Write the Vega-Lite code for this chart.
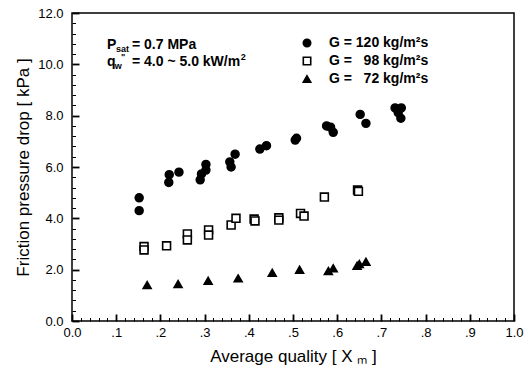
{
  "$schema": "https://vega.github.io/schema/vega-lite/v6.json",
  "width": 442,
  "height": 308,
  "autosize": {"type": "none"},
  "padding": {"left": 72, "top": 13, "right": 11, "bottom": 58},
  "background": "white",
  "config": {
    "view": {"stroke": "black", "strokeWidth": 1.5},
    "font": "Liberation Sans",
    "axis": {"grid": false, "domain": false, "ticks": true, "tickColor": "black", "labelColor": "black", "titleColor": "black", "labelFont": "Liberation Sans", "titleFont": "Liberation Sans", "titleFontWeight": "normal"}
  },
  "datasets": {
    "pts": [
      {"G": "G = 120 kg/m²s", "x": 0.152, "y": 4.8},
      {"G": "G = 120 kg/m²s", "x": 0.152, "y": 4.3},
      {"G": "G = 120 kg/m²s", "x": 0.22, "y": 5.7},
      {"G": "G = 120 kg/m²s", "x": 0.219, "y": 5.4},
      {"G": "G = 120 kg/m²s", "x": 0.242, "y": 5.8},
      {"G": "G = 120 kg/m²s", "x": 0.29, "y": 5.5},
      {"G": "G = 120 kg/m²s", "x": 0.293, "y": 5.73},
      {"G": "G = 120 kg/m²s", "x": 0.303, "y": 6.1},
      {"G": "G = 120 kg/m²s", "x": 0.303, "y": 5.88},
      {"G": "G = 120 kg/m²s", "x": 0.357, "y": 6.2},
      {"G": "G = 120 kg/m²s", "x": 0.36, "y": 6.0},
      {"G": "G = 120 kg/m²s", "x": 0.369, "y": 6.5},
      {"G": "G = 120 kg/m²s", "x": 0.425, "y": 6.7},
      {"G": "G = 120 kg/m²s", "x": 0.44, "y": 6.83},
      {"G": "G = 120 kg/m²s", "x": 0.505, "y": 7.05},
      {"G": "G = 120 kg/m²s", "x": 0.508, "y": 7.12},
      {"G": "G = 120 kg/m²s", "x": 0.576, "y": 7.6},
      {"G": "G = 120 kg/m²s", "x": 0.585, "y": 7.55},
      {"G": "G = 120 kg/m²s", "x": 0.591, "y": 7.35},
      {"G": "G = 120 kg/m²s", "x": 0.652, "y": 8.05},
      {"G": "G = 120 kg/m²s", "x": 0.665, "y": 7.7},
      {"G": "G = 120 kg/m²s", "x": 0.731, "y": 8.3},
      {"G": "G = 120 kg/m²s", "x": 0.745, "y": 8.3},
      {"G": "G = 120 kg/m²s", "x": 0.738, "y": 8.12},
      {"G": "G = 120 kg/m²s", "x": 0.744, "y": 7.9},
      {"G": "G = \u200798 kg/m²s", "x": 0.163, "y": 2.9},
      {"G": "G = \u200798 kg/m²s", "x": 0.163, "y": 2.77},
      {"G": "G = \u200798 kg/m²s", "x": 0.214, "y": 2.93},
      {"G": "G = \u200798 kg/m²s", "x": 0.261, "y": 3.39},
      {"G": "G = \u200798 kg/m²s", "x": 0.261, "y": 3.16},
      {"G": "G = \u200798 kg/m²s", "x": 0.309, "y": 3.55},
      {"G": "G = \u200798 kg/m²s", "x": 0.309, "y": 3.35},
      {"G": "G = \u200798 kg/m²s", "x": 0.36, "y": 3.74},
      {"G": "G = \u200798 kg/m²s", "x": 0.371, "y": 4.0},
      {"G": "G = \u200798 kg/m²s", "x": 0.412, "y": 3.97},
      {"G": "G = \u200798 kg/m²s", "x": 0.414, "y": 3.9},
      {"G": "G = \u200798 kg/m²s", "x": 0.468, "y": 4.02},
      {"G": "G = \u200798 kg/m²s", "x": 0.468, "y": 3.93},
      {"G": "G = \u200798 kg/m²s", "x": 0.517, "y": 4.19},
      {"G": "G = \u200798 kg/m²s", "x": 0.525, "y": 4.09},
      {"G": "G = \u200798 kg/m²s", "x": 0.571, "y": 4.83},
      {"G": "G = \u200798 kg/m²s", "x": 0.646, "y": 5.1},
      {"G": "G = \u200798 kg/m²s", "x": 0.648, "y": 5.05},
      {"G": "G = \u200772 kg/m²s", "x": 0.17, "y": 1.4},
      {"G": "G = \u200772 kg/m²s", "x": 0.24, "y": 1.44},
      {"G": "G = \u200772 kg/m²s", "x": 0.308, "y": 1.57},
      {"G": "G = \u200772 kg/m²s", "x": 0.376, "y": 1.66},
      {"G": "G = \u200772 kg/m²s", "x": 0.453, "y": 1.88},
      {"G": "G = \u200772 kg/m²s", "x": 0.515, "y": 2.0},
      {"G": "G = \u200772 kg/m²s", "x": 0.58, "y": 1.95},
      {"G": "G = \u200772 kg/m²s", "x": 0.591, "y": 2.05},
      {"G": "G = \u200772 kg/m²s", "x": 0.645, "y": 2.15},
      {"G": "G = \u200772 kg/m²s", "x": 0.65, "y": 2.22},
      {"G": "G = \u200772 kg/m²s", "x": 0.665, "y": 2.31}
    ],
    "leg": [
      {"G": "G = 120 kg/m²s", "x": 0.5317, "lx": 0.5814, "y": 10.83},
      {"G": "G = \u200798 kg/m²s", "x": 0.5317, "lx": 0.5814, "y": 10.13},
      {"G": "G = \u200772 kg/m²s", "x": 0.5317, "lx": 0.5814, "y": 9.43}
    ],
    "notes": [
      {"part": "main", "x": 0.0792, "y": 10.75, "t": "P"},
      {"part": "sub", "x": 0.0995, "y": 10.58, "t": "sat"},
      {"part": "main", "x": 0.1357, "y": 10.75, "t": "= 0.7 MPa"},
      {"part": "main", "x": 0.0792, "y": 10.09, "t": "q"},
      {"part": "sub", "x": 0.097, "y": 9.93, "t": "w"},
      {"part": "sup", "x": 0.111, "y": 10.28, "t": "\""},
      {"part": "main", "x": 0.1357, "y": 10.09, "t": "= 4.0 ~ 5.0 kW/m"},
      {"part": "sup", "x": 0.382, "y": 10.28, "t": "2"}
    ]
  },
  "layer": [
    {
      "data": {"name": "pts"},
      "mark": {"type": "point", "stroke": "black", "strokeWidth": 1.6, "opacity": 1, "size": 62},
      "encoding": {
        "x": {"field": "x", "type": "quantitative", "scale": {"domain": [0, 1], "nice": false, "zero": false},
          "axis": {"values": [0,0.02,0.04,0.06,0.08,0.1,0.12,0.14,0.16,0.18,0.2,0.22,0.24,0.26,0.28,0.3,0.32,0.34,0.36,0.38,0.4,0.42,0.44,0.46,0.48,0.5,0.52,0.54,0.56,0.58,0.6,0.62,0.64,0.66,0.68,0.7,0.72,0.74,0.76,0.78,0.8,0.82,0.84,0.86,0.88,0.9,0.92,0.94,0.96,0.98,1.0],
            "orient": "bottom", "ticks": true, "tickSize": -7, "tickColor": "black", "tickOpacity": 1,
            "tickWidth": {"condition": {"test": "abs(datum.value*10 - round(datum.value*10)) < 0.001", "value": 1.8}, "value": 1},
            "tickDash": {"condition": {"test": "abs(datum.value*10 - round(datum.value*10)) < 0.001", "value": [10, 0]}, "value": [3.5, 10]},
            "labelFlush": false, "labelOverlap": false,
            "labelExpr": "abs(datum.value*10 - round(datum.value*10)) > 0.001 ? '' : datum.value == 0 ? '0.0' : datum.value == 1 ? '1.0' : replace(format(datum.value, '.1f'), '0.', '.')",
            "labelFontSize": 13, "labelPadding": 12, "title": "Average quality [ X ₘ ]", "titleFontSize": 17, "titlePadding": 9}},
        "y": {"field": "y", "type": "quantitative", "scale": {"domain": [0, 12], "nice": false, "zero": false},
          "axis": {"values": [0,0.4,0.8,1.2,1.6,2,2.4,2.8,3.2,3.6,4,4.4,4.8,5.2,5.6,6,6.4,6.8,7.2,7.6,8,8.4,8.8,9.2,9.6,10,10.4,10.8,11.2,11.6,12],
            "orient": "left", "ticks": true, "tickSize": -7, "tickColor": "black", "tickOpacity": 1,
            "tickWidth": {"condition": {"test": "abs(datum.value/2 - round(datum.value/2)) < 0.001", "value": 1.8}, "value": 1},
            "tickDash": {"condition": {"test": "abs(datum.value/2 - round(datum.value/2)) < 0.001", "value": [10, 0]}, "value": [3.5, 10]},
            "labelExpr": "abs(datum.value/2 - round(datum.value/2)) > 0.001 ? '' : format(datum.value, '.1f')",
            "labelFlush": false, "labelOverlap": false,
            "labelFontSize": 13, "labelPadding": 16, "title": "Friction pressure drop [ kPa ]", "titleFontSize": 17, "titlePadding": 5}},
        "shape": {"field": "G", "type": "nominal", "legend": null,
          "scale": {"domain": ["G = 120 kg/m²s", "G = \u200798 kg/m²s", "G = \u200772 kg/m²s"], "range": ["circle", "square", "triangle-up"]}},
        "fill": {"field": "G", "type": "nominal", "legend": null,
          "scale": {"domain": ["G = 120 kg/m²s", "G = \u200798 kg/m²s", "G = \u200772 kg/m²s"], "range": ["black", "white", "black"]}}
      }
    },
    {
      "data": {"name": "leg"},
      "mark": {"type": "point", "stroke": "black", "strokeWidth": 1.6, "opacity": 1, "size": 55},
      "encoding": {
        "x": {"field": "x", "type": "quantitative", "axis": null},
        "y": {"field": "y", "type": "quantitative", "axis": null},
        "shape": {"field": "G", "type": "nominal", "legend": null},
        "fill": {"field": "G", "type": "nominal", "legend": null}
      }
    },
    {
      "data": {"name": "leg"},
      "mark": {"type": "text", "align": "left", "baseline": "middle", "font": "Liberation Sans", "fontWeight": "bold", "fontSize": 14, "color": "black"},
      "encoding": {"x": {"field": "lx", "type": "quantitative", "axis": null}, "y": {"field": "y", "type": "quantitative", "axis": null}, "text": {"field": "G"}}
    },
    {
      "data": {"name": "notes"},
      "transform": [{"filter": "datum.part == 'main'"}],
      "mark": {"type": "text", "align": "left", "baseline": "middle", "font": "Liberation Sans", "fontWeight": "bold", "fontSize": 14, "color": "black"},
      "encoding": {"x": {"field": "x", "type": "quantitative", "axis": null}, "y": {"field": "y", "type": "quantitative", "axis": null}, "text": {"field": "t"}}
    },
    {
      "data": {"name": "notes"},
      "transform": [{"filter": "datum.part != 'main'"}],
      "mark": {"type": "text", "align": "left", "baseline": "middle", "font": "Liberation Sans", "fontWeight": "bold", "fontSize": 9, "color": "black"},
      "encoding": {"x": {"field": "x", "type": "quantitative", "axis": null}, "y": {"field": "y", "type": "quantitative", "axis": null}, "text": {"field": "t"}}
    }
  ],
  "resolve": {"axis": {"x": "independent", "y": "independent"}}
}
